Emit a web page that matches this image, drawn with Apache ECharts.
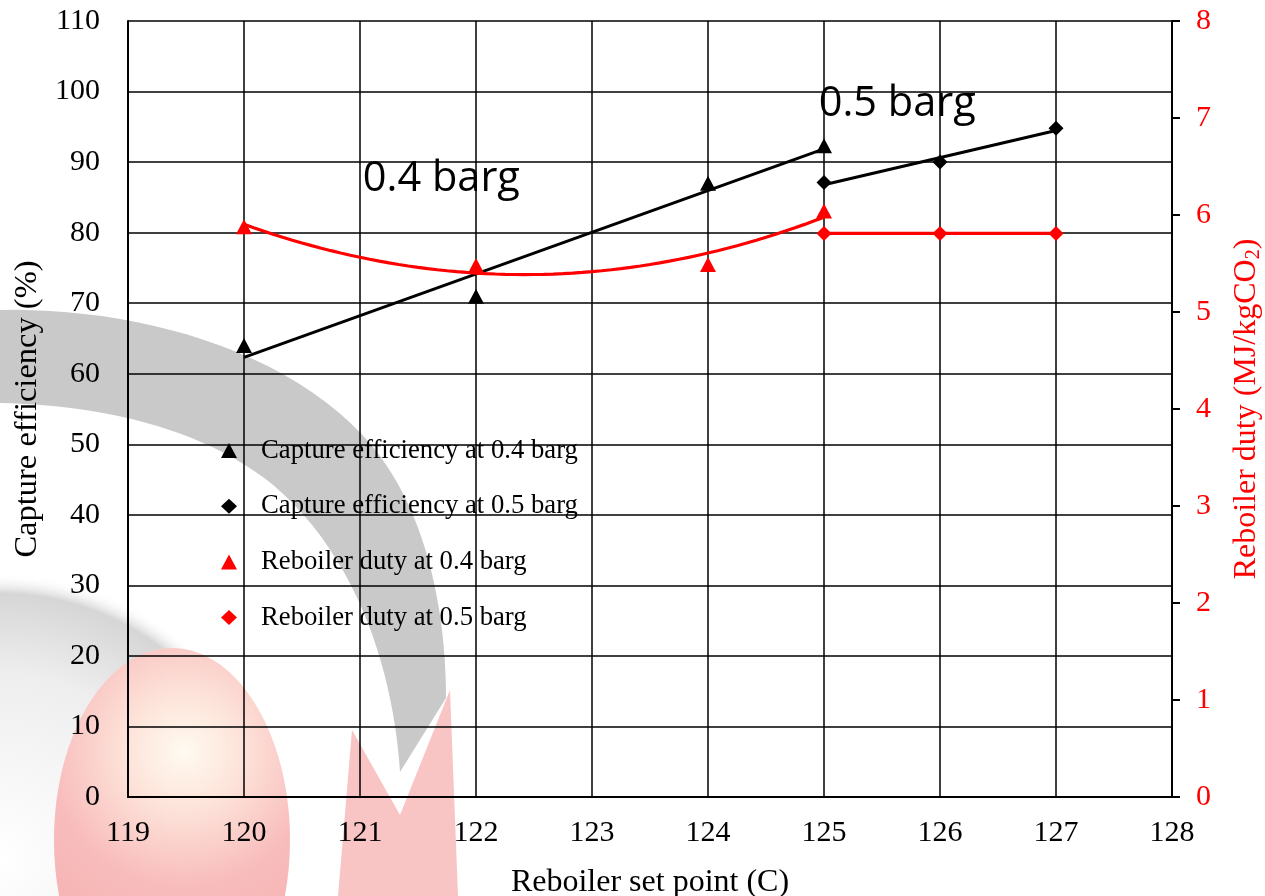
<!DOCTYPE html>
<html>
<head>
<meta charset="utf-8">
<title>Reboiler set point</title>
<script src="https://cdn.jsdelivr.net/npm/echarts@6/dist/echarts.min.js"></script>
<style>
  html, body { margin: 0; padding: 0; background: #fff; overflow: hidden; width: 1265px; height: 896px; }
  #chart { width: 1265px; height: 896px; display: block; }
</style>
</head>
<body>
<div id="chart"></div>
<script>
// Reboiler set point (°C) for each pressure case
const setPoint04 = [120, 122, 124, 125];
const setPoint05 = [125, 126, 127];
// Capture efficiency (%)
const capture04 = [64.0, 71.0, 87.0, 92.3];
const capture05 = [87.1, 90.0, 94.8];
// Reboiler duty (MJ/kgCO2)
const duty04 = [5.88, 5.48, 5.49, 6.04];
const duty05 = [5.81, 5.81, 5.81];
// Series names and in-plot annotations
const seriesNames = [
  'Capture efficiency at 0.4 barg',
  'Capture efficiency at 0.5 barg',
  'Reboiler duty at 0.4 barg',
  'Reboiler duty at 0.5 barg'
];
const annotations = [
  { text: '0.4 barg', x: 121.02, y: 87.6 },
  { text: '0.5 barg', x: 124.95, y: 98.2 }
];

// Least-squares polynomial fit (degree 1 or 2), returned as coefficient list
function polyFit(xs, ys, degree) {
  const n = degree + 1;
  const A = [];
  for (let r = 0; r < n; r++) {
    A.push(new Array(n + 1).fill(0));
    for (let c = 0; c < n; c++) {
      A[r][c] = xs.reduce((s, x) => s + Math.pow(x, r + c), 0);
    }
    A[r][n] = xs.reduce((s, x, i) => s + Math.pow(x, r) * ys[i], 0);
  }
  for (let i = 0; i < n; i++) {
    let p = i;
    for (let k = i + 1; k < n; k++) if (Math.abs(A[k][i]) > Math.abs(A[p][i])) p = k;
    [A[i], A[p]] = [A[p], A[i]];
    for (let k = i + 1; k < n; k++) {
      const f = A[k][i] / A[i][i];
      for (let c = i; c <= n; c++) A[k][c] -= f * A[i][c];
    }
  }
  const coef = new Array(n).fill(0);
  for (let i = n - 1; i >= 0; i--) {
    let s = A[i][n];
    for (let c = i + 1; c < n; c++) s -= A[i][c] * coef[c];
    coef[i] = s / A[i][i];
  }
  return coef;
}

// Trendline evaluated across the span of its own data
function trend(xs, ys, degree, steps) {
  const x0 = Math.min(...xs), mean = xs.reduce((a, b) => a + b, 0) / xs.length;
  const u = xs.map(x => x - mean);
  const coef = polyFit(u, ys, degree);
  const x1 = Math.max(...xs);
  const out = [];
  for (let i = 0; i <= steps; i++) {
    const x = x0 + (x1 - x0) * i / steps;
    const t = x - mean;
    out.push([x, coef.reduce((s, c, k) => s + c * Math.pow(t, k), 0)]);
  }
  return out;
}

const pairs = (xs, ys) => xs.map((x, i) => [x, ys[i]]);

// Outline helper for the faded logo: chains of cubic curves / straight lines
function outline(segments) {
  const pts = [];
  let cur = segments[0];
  pts.push(cur);
  for (let s = 1; s < segments.length; s++) {
    const seg = segments[s];
    if (seg.length === 3) {
      const [c1, c2, end] = seg;
      for (let i = 1; i <= 24; i++) {
        const t = i / 24, m = 1 - t;
        pts.push([
          m * m * m * cur[0] + 3 * m * m * t * c1[0] + 3 * m * t * t * c2[0] + t * t * t * end[0],
          m * m * m * cur[1] + 3 * m * m * t * c1[1] + 3 * m * t * t * c2[1] + t * t * t * end[1]
        ]);
      }
      cur = end;
    } else {
      cur = seg[0];
      pts.push(cur);
    }
  }
  return pts;
}

const serif = '"Liberation Serif", "Times New Roman", serif';
const gridLine = { color: '#000', width: 1.5 };

const chart = echarts.init(document.getElementById('chart'), null, { renderer: 'canvas', width: 1265, height: 896 });

chart.setOption({
  backgroundColor: '#fff',
  animation: false,
  graphic: [
    {
      type: 'circle', z: -5, silent: true,
      shape: { cx: 0, cy: 830, r: 285 },
      style: {
        fill: new echarts.graphic.RadialGradient(0.5, 0.55, 0.5, [
          { offset: 0, color: 'rgba(255,255,255,1)' },
          { offset: 0.65, color: 'rgba(238,238,238,1)' },
          { offset: 0.93, color: 'rgba(214,214,214,1)' },
          { offset: 1, color: 'rgba(255,255,255,0)' }
        ])
      }
    },
    {
      type: 'ellipse', z: -4, silent: true,
      shape: { cx: 172, cy: 840, rx: 118, ry: 192 },
      style: {
        fill: new echarts.graphic.RadialGradient(0.55, 0.27, 0.95, [
          { offset: 0, color: '#fffaf0' },
          { offset: 0.25, color: '#fde4da' },
          { offset: 0.6, color: '#f8bcbc' },
          { offset: 1, color: '#f6b0b0' }
        ])
      }
    },
    {
      type: 'polygon', z: -4, silent: true,
      shape: { points: [[338, 896], [352, 730], [400, 815], [450, 690], [458, 896]] },
      style: { fill: '#f8c4c4' }
    },
    {
      type: 'polygon', z: -3, silent: true,
      shape: {
        points: outline([
          [0, 310],
          [[130, 307], [290, 347], [373, 447]],
          [[430, 517], [446, 620], [446, 698]],
          [[400, 772]],
          [[394, 680], [362, 560], [272, 484]],
          [[200, 427], [100, 405], [0, 403]]
        ])
      },
      style: { fill: '#c9c9c9' }
    }
  ],
  grid: { left: 128, right: 93, top: 21, bottom: 99, containLabel: false, outerBoundsMode: 'none' },
  legend: {
    data: seriesNames,
    orient: 'vertical',
    left: 221,
    top: 437,
    padding: 0,
    itemWidth: 16,
    itemHeight: 15,
    itemGap: 28.7,
    textStyle: { fontFamily: serif, fontSize: 26.7, color: '#000', lineHeight: 26, padding: [0, 0, 0, 19] }
  },
  xAxis: {
    type: 'value',
    min: 119, max: 128, interval: 1,
    name: 'Reboiler set point (C)',
    nameLocation: 'middle',
    nameGap: 70,
    nameTextStyle: { fontFamily: serif, fontSize: 32, color: '#000' },
    axisLine: { show: true, lineStyle: { color: '#000', width: 2 } },
    axisTick: { show: false },
    axisLabel: { fontFamily: serif, fontSize: 30, color: '#000', margin: 21 },
    splitLine: { show: true, lineStyle: gridLine }
  },
  yAxis: [
    {
      type: 'value',
      min: 0, max: 110, interval: 10,
      name: 'Capture efficiency (%)',
      nameLocation: 'middle',
      nameRotate: 90,
      nameGap: 81,
      nameTextStyle: { fontFamily: serif, fontSize: 32.5, color: '#000' },
      axisLine: { show: true, lineStyle: { color: '#000', width: 2 } },
      axisTick: { show: false },
      axisLabel: { fontFamily: serif, fontSize: 30, color: '#000', margin: 28 },
      splitLine: { show: true, lineStyle: gridLine }
    },
    {
      type: 'value',
      position: 'right',
      min: 0, max: 8, interval: 1,
      name: 'Reboiler duty (MJ/kgCO{sub|2})',
      nameLocation: 'middle',
      nameRotate: 90,
      nameGap: 58,
      nameTextStyle: {
        fontFamily: serif, fontSize: 32, color: '#ff0000',
        rich: { sub: { fontFamily: serif, fontSize: 20, color: '#ff0000', padding: [14, 0, 0, 0] } }
      },
      axisLine: { show: true, lineStyle: { color: '#000', width: 2 } },
      axisTick: { show: true, inside: false, length: 8, lineStyle: { color: '#000', width: 2 } },
      axisLabel: { fontFamily: serif, fontSize: 30, color: '#ff0000', margin: 24 },
      splitLine: { show: false }
    }
  ],
  series: [
    {
      name: 'capture04 trend', type: 'line', yAxisIndex: 0, showSymbol: false, silent: true,
      data: trend(setPoint04, capture04, 1, 1),
      lineStyle: { color: '#000', width: 3 }, z: 3
    },
    {
      name: 'capture05 trend', type: 'line', yAxisIndex: 0, showSymbol: false, silent: true,
      data: trend(setPoint05, capture05, 1, 1),
      lineStyle: { color: '#000', width: 3 }, z: 3
    },
    {
      name: 'duty04 trend', type: 'line', yAxisIndex: 1, showSymbol: false, silent: true,
      data: trend(setPoint04, duty04, 2, 60),
      lineStyle: { color: '#ff0000', width: 3.2 }, z: 3
    },
    {
      name: 'duty05 trend', type: 'line', yAxisIndex: 1, showSymbol: false, silent: true,
      data: trend(setPoint05, duty05, 1, 1),
      lineStyle: { color: '#ff0000', width: 3.2 }, z: 3
    },
    {
      name: seriesNames[0], type: 'scatter', yAxisIndex: 0,
      symbol: 'triangle', symbolSize: [16, 15],
      itemStyle: { color: '#000', opacity: 1 }, data: pairs(setPoint04, capture04), z: 4
    },
    {
      name: seriesNames[1], type: 'scatter', yAxisIndex: 0,
      symbol: 'diamond', symbolSize: [15, 15],
      itemStyle: { color: '#000', opacity: 1 }, data: pairs(setPoint05, capture05), z: 4
    },
    {
      name: seriesNames[2], type: 'scatter', yAxisIndex: 1,
      symbol: 'triangle', symbolSize: [16, 15],
      itemStyle: { color: '#ff0000', opacity: 1 }, data: pairs(setPoint04, duty04), z: 4
    },
    {
      name: seriesNames[3], type: 'scatter', yAxisIndex: 1,
      symbol: 'diamond', symbolSize: [15, 15],
      itemStyle: { color: '#ff0000', opacity: 1 }, data: pairs(setPoint05, duty05), z: 4
    },
    {
      name: 'annotations', type: 'scatter', yAxisIndex: 0, symbolSize: 1, silent: true,
      itemStyle: { color: '#000', opacity: 0 },
      data: annotations.map(a => ({ name: a.text, value: [a.x, a.y] })),
      label: {
        show: true, position: 'right', distance: 0, opacity: 1,
        formatter: p => p.name,
        fontFamily: '"Open Sans", "Noto Sans", sans-serif', fontSize: 41.5, color: '#000'
      },
      z: 5
    }
  ]
});
</script>
</body>
</html>
